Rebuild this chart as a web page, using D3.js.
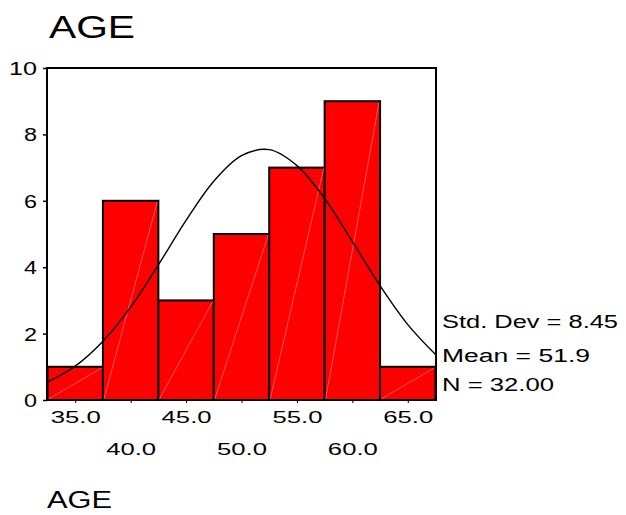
<!DOCTYPE html>
<html><head><meta charset="utf-8">
<script src="https://cdn.jsdelivr.net/npm/d3@7"></script>
<style>body{margin:0;background:#fff}svg{display:block}text{font-family:"Liberation Sans",Arial,sans-serif;fill:#000}</style>
</head><body>
<script>
const binStarts = [32.5, 37.5, 42.5, 47.5, 52.5, 57.5, 62.5];
const binWidth = 5;
const counts = [1, 6, 3, 5, 7, 9, 1];
const curveX = [32.5, 35, 37.5, 40, 42.5, 45, 47.5, 50, 52.5, 55, 57.5, 60, 62.5, 65, 67.5];
const curveY = [0.54, 1.02, 1.77, 2.80, 4.07, 5.41, 6.59, 7.36, 7.54, 7.06, 6.07, 4.77, 3.44, 2.27, 1.37];
const xTicks = [35, 40, 45, 50, 55, 60, 65];
const yTicks = [0, 2, 4, 6, 8, 10];
const statLines = ["Std. Dev = 8.45", "Mean = 51.9", "N = 32.00"];
const titleText = "AGE";
const axisTitle = "AGE";

const W = 626, H = 515;
const svg = d3.select("body").append("svg").attr("width", W).attr("height", H);
const x = d3.scaleLinear().domain([32.5, 67.5]).range([47.5, 435.5]);
const y = d3.scaleLinear().domain([0, 10]).range([400, 68]);

// title
svg.append("text").attr("x", 49).attr("y", 38).attr("font-size", 32)
  .attr("textLength", 86).attr("lengthAdjust", "spacingAndGlyphs").text(titleText);

// bars
const bars = svg.append("g");
bars.selectAll("rect").data(binStarts).join("rect")
  .attr("x", d => x(d)).attr("y", (d, i) => y(counts[i]))
  .attr("width", d => x(d + binWidth) - x(d))
  .attr("height", (d, i) => y(0) - y(counts[i]))
  .attr("fill", "#ff0000").attr("stroke", "#000").attr("stroke-width", 2);
bars.selectAll("line").data(binStarts).join("line")
  .attr("x1", d => x(d) + 1).attr("y1", y(0) - 1)
  .attr("x2", d => x(d + binWidth) - 1).attr("y2", (d, i) => y(counts[i]) + 1)
  .attr("stroke", "#ff9090").attr("stroke-width", 0.6);

// normal curve
const line = d3.line().x(d => x(d[0])).y(d => y(d[1])).curve(d3.curveCatmullRom);
svg.append("path").datum(curveX.map((v, i) => [v, curveY[i]]))
  .attr("d", line).attr("fill", "none").attr("stroke", "#000").attr("stroke-width", 1.4);

// frame
svg.append("rect").attr("x", 47).attr("y", 68).attr("width", 389).attr("height", 332)
  .attr("fill", "none").attr("stroke", "#000").attr("stroke-width", 2);

// y axis
const gy = svg.append("g").attr("transform", "translate(47,0)")
  .call(d3.axisLeft(y).tickValues(yTicks).tickSize(4).tickPadding(6).tickFormat(d3.format("d")));
gy.select(".domain").remove();
gy.selectAll("line").attr("stroke", "#000").attr("stroke-width", 1.5);
gy.selectAll("text").attr("font-size", 18).attr("font-family", null).attr("dy", "0.36em")
  .attr("lengthAdjust", "spacingAndGlyphs")
  .attr("textLength", d => d >= 10 ? 28 : 13);

// x axis
const gx = svg.append("g").attr("transform", "translate(0,400)")
  .call(d3.axisBottom(x).tickValues(xTicks).tickSize(3).tickPadding(0).tickFormat(d3.format(".1f")));
gx.select(".domain").remove();
gx.selectAll("line").attr("stroke", "#000").attr("stroke-width", 1);
gx.selectAll("text").attr("font-size", 17).attr("font-family", null)
  .attr("dy", null)
  .attr("y", (d, i) => i % 2 === 0 ? 23 : 55)
  .attr("lengthAdjust", "spacingAndGlyphs").attr("textLength", 50);

// stats
const statW = [176, 148, 112];
const statBase = [328, 362, 391];
svg.append("g").selectAll("text").data(statLines).join("text")
  .attr("x", 442).attr("y", (d, i) => statBase[i]).attr("font-size", 18)
  .attr("textLength", (d, i) => statW[i]).attr("lengthAdjust", "spacingAndGlyphs").text(d => d);

// axis title
svg.append("text").attr("x", 47).attr("y", 508).attr("font-size", 23)
  .attr("textLength", 65).attr("lengthAdjust", "spacingAndGlyphs").text(axisTitle);
</script>
</body></html>
